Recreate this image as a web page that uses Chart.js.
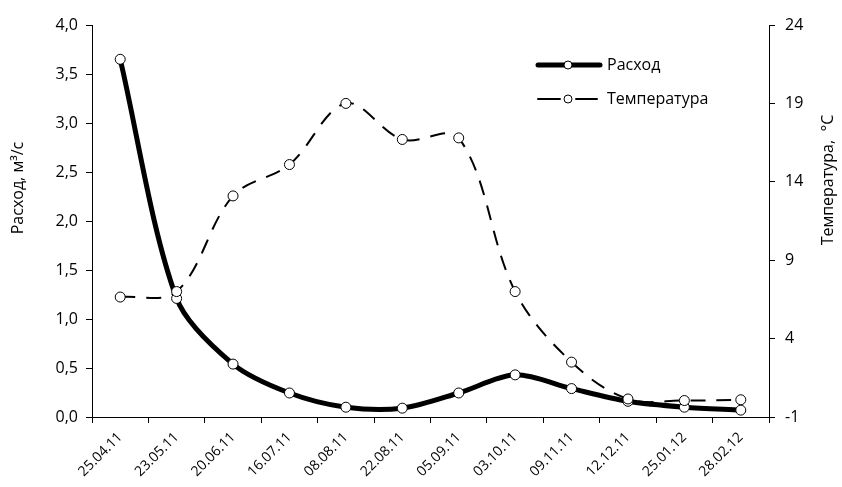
<!DOCTYPE html>
<html>
<head>
<meta charset="utf-8">
<script src="https://cdn.jsdelivr.net/npm/chart.js@4.4.1/dist/chart.umd.min.js"></script>
<style>
  html, body { margin: 0; padding: 0; background: #fff; }
  #wrap { width: 842px; height: 487px; }
</style>
</head>
<body>
<div id="wrap"><canvas id="myChart" width="842" height="487"></canvas></div>
<script>
// Даты отбора проб
const dates = ['25.04.11', '23.05.11', '20.06.11', '16.07.11', '08.08.11', '22.08.11',
  '05.09.11', '03.10.11', '09.11.11', '12.12.11', '25.01.12', '28.02.12']

// Расход, м3/с
const flow = [3.65, 1.21, 0.54, 0.245, 0.10, 0.09, 0.245, 0.43, 0.29, 0.16, 0.10, 0.07]

// Температура, °C
const temperature = [6.65, 7.0, 13.1, 15.1, 19.0, 16.7, 16.8, 7.0, 2.5, 0.15, 0.05, 0.1]

const fontFamily = '"Open Sans", "DejaVu Sans", sans-serif'

// Легенда внутри области графика и подписи осей
const customDraw = {
  id: 'customDraw',
  afterDraw(chart) {
    const ctx = chart.ctx
    ctx.save()

    const items = [
      { label: 'Расход', ds: chart.data.datasets[0], y: 65 },
      { label: 'Температура', ds: chart.data.datasets[1], y: 99 }
    ]
    items.forEach(item => {
      ctx.beginPath()
      ctx.strokeStyle = '#000'
      ctx.lineWidth = item.ds.borderWidth
      ctx.lineCap = 'round'
      if (item.ds.borderDash) {
        ctx.moveTo(538, item.y); ctx.lineTo(560, item.y)
        ctx.moveTo(576, item.y); ctx.lineTo(597, item.y)
      } else {
        ctx.moveTo(538, item.y); ctx.lineTo(600, item.y)
      }
      ctx.stroke()
      ctx.lineCap = 'butt'
      ctx.beginPath()
      ctx.arc(568, item.y, 4, 0, Math.PI * 2)
      ctx.fillStyle = '#fff'
      ctx.fill()
      ctx.lineWidth = 1
      ctx.stroke()
      ctx.fillStyle = '#000'
      ctx.font = '16px ' + fontFamily
      ctx.textAlign = 'left'
      ctx.textBaseline = 'middle'
      ctx.fillText(item.label, 607, item.y)
    })

    ctx.font = '16px ' + fontFamily
    ctx.textAlign = 'center'
    ctx.textBaseline = 'middle'
    ctx.translate(18, 188)
    ctx.rotate(-Math.PI / 2)
    ctx.fillText('Расход, м³/с', 0, 0)
    ctx.restore()

    ctx.save()
    ctx.font = '16px ' + fontFamily
    ctx.textAlign = 'center'
    ctx.textBaseline = 'middle'
    ctx.fillStyle = '#000'
    ctx.translate(828, 180)
    ctx.rotate(-Math.PI / 2)
    ctx.fillText('Температура,  °C', 0, 0)
    ctx.restore()
  }
}

const ctx = document.getElementById('myChart').getContext('2d')

new Chart(ctx, {
  type: 'line',
  data: {
    labels: dates,
    datasets: [
      {
        label: 'Расход',
        data: flow,
        yAxisID: 'y',
        borderColor: '#000',
        borderWidth: 5,
        tension: 0.3,
        pointRadius: 5,
        pointBackgroundColor: '#fff',
        pointBorderColor: '#000',
        pointBorderWidth: 1,
        order: 2
      },
      {
        label: 'Температура',
        data: temperature,
        yAxisID: 'y1',
        borderColor: '#000',
        borderWidth: 2,
        borderDash: [15, 11],
        tension: 0.35,
        pointRadius: 5,
        pointBackgroundColor: '#fff',
        pointBorderColor: '#000',
        pointBorderWidth: 1,
        order: 1
      }
    ]
  },
  options: {
    responsive: false,
    animation: false,
    layout: { padding: { top: 25, bottom: 0, left: 0, right: 0 } },
    plugins: {
      legend: { display: false },
      tooltip: { enabled: false }
    },
    scales: {
      x: {
        offset: true,
        grid: { display: true, drawOnChartArea: false, offset: true, color: '#000', tickLength: 6 },
        border: { color: '#000', width: 1 },
        ticks: {
          color: '#000',
          font: { family: fontFamily, size: 14 },
          maxRotation: 45,
          minRotation: 45,
          autoSkip: false,
          padding: 6
        },
        afterFit(scale) { scale.height = 70 }
      },
      y: {
        position: 'left',
        min: 0,
        max: 4,
        grid: { display: true, drawOnChartArea: false, color: '#000', tickLength: 6 },
        border: { color: '#000', width: 1 },
        ticks: {
          stepSize: 0.5,
          color: '#000',
          font: { family: fontFamily, size: 16 },
          padding: 8,
          callback: v => v.toFixed(1).replace('.', ',')
        },
        afterFit(scale) { scale.width = 92 }
      },
      y1: {
        position: 'right',
        min: -1,
        max: 24,
        grid: { display: true, drawOnChartArea: false, color: '#000', tickLength: 6 },
        border: { color: '#000', width: 1 },
        ticks: {
          stepSize: 5,
          color: '#000',
          font: { family: fontFamily, size: 16 },
          padding: 10
        },
        afterFit(scale) { scale.width = 73 }
      }
    }
  },
  plugins: [customDraw]
})
</script>
</body>
</html>
